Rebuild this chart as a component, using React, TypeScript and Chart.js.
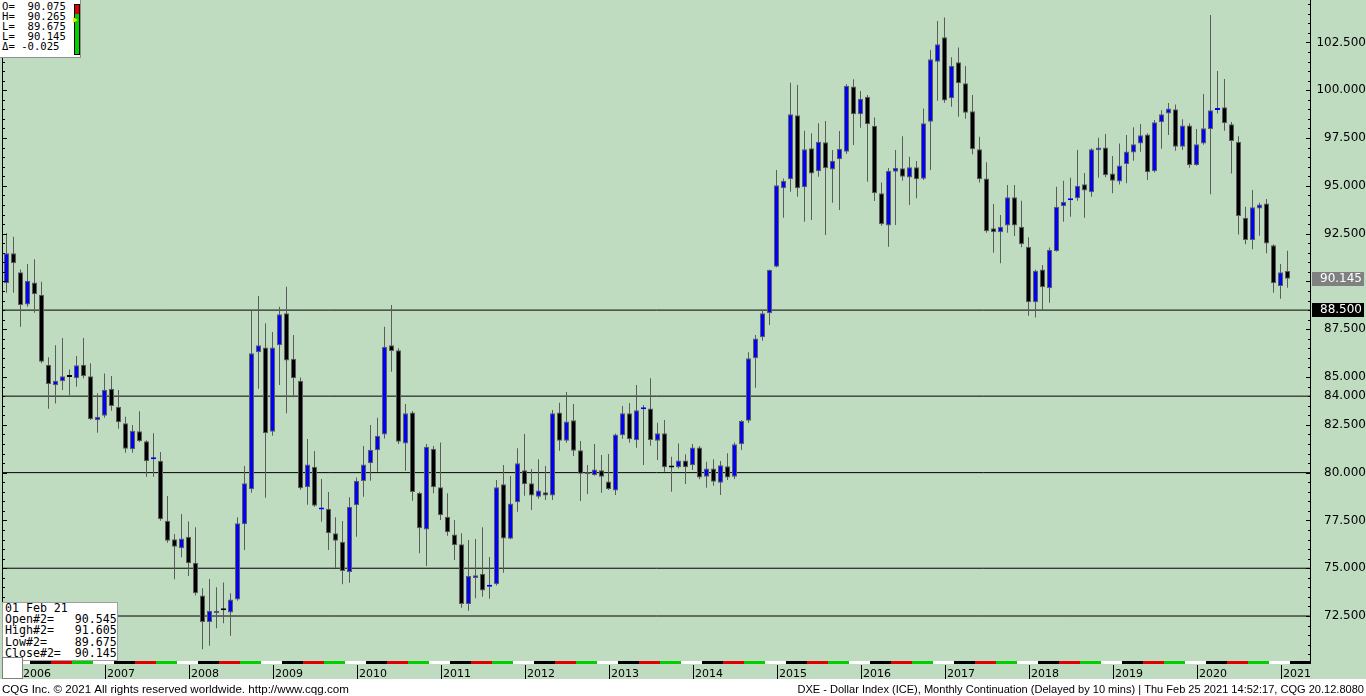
import React, { useEffect, useRef } from 'react';
import { Chart, registerables } from 'chart.js';

Chart.register(...registerables);

// ---- data (monthly DXE candles, Nov 2005 .. Feb 2021) ----
const START_YEAR = 2005;
const START_MONTH = 11;
const YEAR_LABELS = ['2006', '2007', '2008', '2009', '2010', '2011', '2012', '2013', '2014', '2015', '2016', '2017', '2018', '2019', '2020', '2021'];

const OPEN = [
  89.90, 91.47, 90.48, 88.80, 89.95, 89.30, 85.64, 84.57, 84.78, 85.04, 84.93, 85.64,
  85.04, 82.74, 82.98, 84.39, 83.45, 82.58, 81.22, 82.16, 81.64, 80.70, 80.62, 77.48,
  76.51, 76.04, 76.65, 75.29, 73.58, 72.19, 72.65, 72.88, 72.69, 73.37, 77.30, 79.13,
  86.29, 86.55, 82.14, 86.66, 88.33, 85.96, 84.81, 79.23, 80.31, 78.07, 78.11, 76.83,
  76.39, 74.80, 78.29, 79.56, 80.49, 81.17, 82.00, 86.66, 86.40, 81.53, 83.15, 78.93,
  77.03, 81.25, 79.23, 77.69, 76.77, 76.25, 73.13, 74.49, 74.71, 74.03, 74.16, 79.39,
  76.54, 78.45, 80.12, 79.44, 78.74, 78.97, 78.81, 83.15, 81.67, 82.74, 81.17, 80.02,
  79.87, 80.12, 79.54, 79.07, 81.95, 83.10, 81.69, 83.31, 83.36, 81.67, 82.06, 80.30,
  80.28, 80.64, 80.38, 81.32, 79.79, 80.22, 79.47, 80.33, 79.79, 81.48, 82.71, 85.98,
  87.08, 88.33, 90.77, 94.87, 95.34, 98.69, 94.92, 96.96, 95.76, 97.28, 95.86, 96.39,
  96.78, 100.19, 98.74, 99.66, 98.14, 94.61, 92.93, 95.74, 95.92, 95.44, 95.97, 95.37,
  98.35, 101.49, 102.77, 99.58, 101.46, 100.36, 98.90, 96.91, 95.39, 92.78, 92.57, 92.93,
  94.40, 92.86, 91.81, 88.91, 90.63, 89.64, 91.59, 93.93, 94.24, 94.35, 95.08, 94.66,
  96.86, 97.01, 95.65, 95.23, 96.14, 96.75, 97.22, 97.69, 95.76, 98.32, 98.79, 99.00,
  97.05, 98.16, 96.09, 97.22, 97.97, 98.97, 99.11, 98.22, 97.31, 93.33, 92.17, 93.82,
  94.08, 91.89, 89.76, 90.545,
];
const HIGH = [
  92.52, 92.34, 90.63, 90.91, 91.16, 89.98, 86.03, 86.66, 87.04, 85.40, 86.10, 87.04,
  85.72, 84.15, 85.19, 85.05, 84.32, 82.92, 82.49, 83.21, 81.70, 82.06, 81.08, 78.78,
  76.79, 77.83, 77.45, 77.14, 73.95, 74.44, 74.00, 74.26, 73.69, 77.66, 80.35, 88.45,
  89.24, 87.81, 87.35, 88.68, 89.72, 87.20, 84.98, 81.76, 81.13, 79.67, 78.99, 77.66,
  77.47, 78.71, 79.75, 81.39, 82.49, 82.87, 87.63, 88.77, 86.50, 83.59, 83.22, 79.00,
  81.50, 81.39, 81.58, 78.92, 77.52, 76.83, 76.47, 76.53, 77.14, 75.59, 79.61, 80.40,
  79.82, 81.27, 82.02, 80.19, 80.70, 80.35, 83.27, 83.66, 84.22, 83.59, 81.65, 80.40,
  81.50, 80.92, 80.97, 82.05, 83.48, 83.64, 84.58, 83.54, 84.93, 82.61, 82.75, 80.83,
  81.53, 80.96, 81.50, 81.39, 80.57, 80.70, 80.61, 81.01, 81.58, 82.75, 86.29, 87.20,
  88.50, 90.63, 95.83, 95.39, 100.39, 100.27, 97.88, 97.75, 98.27, 98.39, 96.87, 97.87,
  100.32, 100.57, 99.96, 99.75, 98.58, 95.18, 95.93, 96.87, 97.60, 96.52, 96.30, 99.05,
  102.10, 103.62, 103.81, 101.72, 102.24, 101.27, 99.75, 97.57, 96.24, 94.05, 93.47, 95.04,
  95.04, 94.22, 92.31, 90.63, 90.86, 91.78, 94.95, 95.27, 95.42, 96.87, 95.67, 96.96,
  97.52, 97.71, 96.56, 97.22, 97.66, 98.06, 98.23, 97.75, 98.44, 98.96, 99.33, 99.26,
  98.48, 98.27, 97.97, 99.80, 103.93, 101.00, 100.59, 98.34, 97.60, 93.91, 94.78, 94.12,
  94.31, 91.95, 90.91, 91.605,
];
const LOW = [
  89.41, 89.41, 87.63, 88.68, 88.36, 85.72, 83.34, 83.62, 84.32, 84.06, 84.49, 84.93,
  82.75, 82.09, 82.87, 83.24, 82.30, 81.04, 81.04, 81.60, 79.79, 79.79, 77.48, 76.33,
  74.42, 75.57, 74.59, 73.58, 70.76, 70.95, 71.86, 72.12, 71.47, 73.30, 75.95, 78.95,
  84.39, 78.69, 81.93, 84.58, 83.10, 83.94, 79.10, 78.32, 78.22, 77.43, 75.95, 75.03,
  74.16, 74.24, 76.65, 78.74, 79.58, 80.05, 81.79, 85.28, 81.50, 80.10, 78.53, 75.78,
  75.12, 78.92, 77.52, 76.70, 75.43, 72.93, 72.78, 73.43, 73.51, 73.40, 74.10, 74.76,
  76.51, 77.96, 78.79, 78.04, 78.64, 78.57, 78.57, 81.15, 81.56, 80.87, 78.51, 78.88,
  79.84, 78.95, 79.09, 78.83, 81.77, 81.56, 81.30, 80.40, 81.41, 80.66, 80.05, 79.00,
  80.22, 79.40, 80.14, 79.65, 79.21, 79.31, 78.83, 79.61, 79.67, 81.18, 82.60, 84.44,
  86.90, 87.72, 90.74, 93.33, 94.69, 94.43, 93.12, 93.21, 95.48, 92.43, 94.12, 93.73,
  96.66, 97.13, 98.04, 95.21, 94.21, 92.91, 91.81, 92.95, 95.27, 94.00, 94.35, 95.30,
  95.83, 99.45, 99.35, 99.14, 98.61, 98.51, 96.65, 95.17, 92.55, 91.50, 90.95, 92.55,
  92.37, 91.79, 88.21, 88.12, 88.45, 88.89, 91.55, 93.12, 93.38, 94.22, 93.33, 94.43,
  95.42, 95.45, 94.61, 95.07, 95.13, 96.31, 96.78, 95.30, 95.70, 96.94, 97.66, 96.84,
  96.87, 95.95, 96.05, 97.15, 94.56, 98.79, 97.88, 95.65, 92.46, 91.94, 91.68, 92.39,
  91.47, 89.41, 89.10, 89.675,
];
const CLOSE = [
  91.47, 90.95, 88.77, 90.04, 89.33, 85.80, 84.63, 84.81, 85.04, 85.00, 85.61, 85.05,
  82.79, 82.92, 84.34, 83.48, 82.63, 81.25, 82.19, 81.64, 80.59, 80.76, 77.56, 76.44,
  76.12, 76.56, 75.26, 73.69, 72.19, 72.78, 72.78, 72.80, 73.37, 77.35, 79.44, 86.24,
  86.66, 82.06, 86.55, 88.28, 85.87, 84.93, 79.18, 80.43, 78.27, 78.13, 76.83, 76.44,
  74.85, 78.22, 79.58, 80.43, 81.20, 81.93, 86.58, 86.36, 81.62, 83.10, 78.99, 77.09,
  81.35, 79.23, 77.77, 76.88, 76.20, 73.13, 74.59, 74.63, 73.84, 74.07, 79.23, 76.56,
  78.39, 80.49, 79.39, 78.81, 79.07, 78.81, 83.10, 81.67, 82.68, 81.15, 79.94, 79.91,
  80.17, 79.79, 79.14, 82.00, 83.10, 81.74, 83.26, 83.35, 81.71, 82.06, 80.28, 80.27,
  80.64, 80.28, 81.32, 79.75, 80.22, 79.52, 80.38, 79.75, 81.48, 82.70, 85.98, 87.02,
  88.33, 90.60, 95.03, 95.27, 98.74, 94.87, 96.91, 95.65, 97.31, 95.92, 96.31, 96.94,
  100.24, 98.74, 99.56, 98.22, 94.61, 92.99, 95.79, 95.95, 95.48, 95.97, 95.34, 98.27,
  101.62, 102.40, 99.47, 101.28, 100.36, 98.82, 96.91, 95.34, 92.62, 92.57, 92.86, 94.40,
  92.93, 91.94, 88.91, 90.56, 89.69, 91.64, 93.91, 94.17, 94.28, 95.01, 94.76, 96.91,
  97.01, 95.55, 95.27, 96.07, 96.80, 97.17, 97.64, 95.71, 98.32, 98.74, 99.05, 97.05,
  98.16, 96.09, 97.17, 98.01, 98.95, 99.03, 98.27, 97.34, 93.42, 92.17, 93.88, 94.03,
  91.99, 89.90, 90.48, 90.145,
];

const LEVELS = [88.5, 84, 80, 75, 72.5];
const AXIS_TICKS = [72.5, 75, 77.5, 80, 82.5, 84, 85, 87.5, 92.5, 95, 97.5, 100, 102.5];
const LAST_PRICE = 90.145;
const BOXED_LEVEL = 88.5;

const TOP_LINES = ['O=  90.075', 'H=  90.265', 'L=  89.675', 'L=  90.145', '\u0394= -0.025'];
const BOTTOM_LINES = ['01 Feb 21', 'Open#2=   90.545', 'High#2=   91.605', 'Low#2=    89.675', 'Close#2=  90.145'];
const FOOTER_LEFT = 'CQG Inc. \u00a9 2021 All rights reserved worldwide. http://www.cqg.com';
const FOOTER_RIGHT = 'DXE - Dollar Index (ICE), Monthly Continuation (Delayed by 10 mins) | Thu Feb 25 2021 14:52:17, CQG 20.12.8080';

const MONTHS = OPEN.map((_, i) => {
  const m = START_MONTH - 1 + i;
  return `${START_YEAR + Math.floor(m / 12)}-${String((m % 12) + 1).padStart(2, '0')}`;
});

const GREEN = '#c0dcc0';
const UP = '#0000ff';
const DOWN = '#000000';
const EDGE = '#5c5c5c';
const W = 1366;
const H = 696;

const janIndex = (year: number) => (year - START_YEAR) * 12 - (START_MONTH - 1);

const chromePlugin = {
  id: 'chrome',
  beforeDraw(chart: any) {
    const { ctx } = chart;
    ctx.save();
    ctx.fillStyle = '#ffffff';
    ctx.fillRect(0, 0, W, H);
    ctx.fillStyle = GREEN;
    ctx.fillRect(0, 0, W, 679);
    ctx.restore();
  },
  beforeDatasetsDraw(chart: any) {
    const { ctx, chartArea } = chart;
    const ys = chart.scales.y;
    ctx.save();
    ctx.strokeStyle = '#000000';
    ctx.lineWidth = 1;
    LEVELS.forEach((v) => {
      const y = ys.getPixelForValue(v);
      ctx.beginPath();
      ctx.moveTo(chartArea.left, y);
      ctx.lineTo(chartArea.right, y);
      ctx.stroke();
    });
    ctx.restore();
  },
  afterDraw(chart: any) {
    const { ctx, chartArea } = chart;
    const ys = chart.scales.y;
    const xs = chart.scales.x;
    ctx.save();
    // frame
    ctx.fillStyle = '#000';
    ctx.fillRect(2, 0, 1, 661);
    ctx.fillRect(1310, 0, 1, 664);
    // y tick marks (every 0.5, longer every 2.5)
    for (let k = 141; k <= 209; k++) {
      const v = k * 0.5;
      const y = Math.round(ys.getPixelForValue(v));
      if (y < 0 || y > chartArea.bottom) continue;
      const len = k % 5 === 0 ? 4 : 2;
      ctx.fillRect(3, y, len, 1);
      ctx.fillRect(1310 - len, y, len, 1);
    }
    // quarter band under plot
    ctx.save();
    ctx.beginPath();
    ctx.rect(3, 660, 1307, 5);
    ctx.clip();
    const cols = ['#000000', '#e00000', '#00d000', '#ffffff'];
    for (let yr = START_YEAR; yr <= 2021; yr++) {
      const j = janIndex(yr);
      for (let q = 0; q < 4; q++) {
        const a = xs.getPixelForValue(j + 1.4 + q * 3);
        const b = xs.getPixelForValue(j + 1.4 + (q + 1) * 3);
        ctx.fillStyle = cols[q];
        ctx.fillRect(Math.round(a), 661, Math.round(b) - Math.round(a), 3);
      }
      const a0 = xs.getPixelForValue(j + 1.4 - 3);
      ctx.fillStyle = '#ffffff';
      if (yr === START_YEAR) ctx.fillRect(Math.round(a0), 661, 30, 3);
    }
    ctx.restore();
    // year ticks and labels
    ctx.fillStyle = '#000';
    ctx.font = '11px "DejaVu Sans"';
    ctx.textBaseline = 'alphabetic';
    ctx.textAlign = 'left';
    YEAR_LABELS.forEach((lab) => {
      const idx = MONTHS.indexOf(`${lab}-01`);
      const x = Math.round(xs.getPixelForValue(idx));
      ctx.fillRect(x, 665, 1, 14);
      ctx.fillText(lab, x + 2, 677);
    });
    // price boxes on the right axis
    const box = (v: number, bg: string) => {
      const y = ys.getPixelForValue(v);
      ctx.fillStyle = bg;
      ctx.fillRect(1312, Math.round(y) - 7, 52, 14);
      ctx.fillStyle = '#ffffff';
      ctx.font = '12px "DejaVu Sans"';
      ctx.textAlign = 'right';
      ctx.textBaseline = 'middle';
      ctx.fillText(v.toFixed(3), 1362, Math.round(y));
    };
    box(LAST_PRICE, '#808080');
    box(BOXED_LEVEL, '#000000');
    // footer
    const fit = (text: string, x: number, y: number, w: number, align: any) => {
      ctx.font = '11px "Liberation Sans"';
      const m = ctx.measureText(text).width;
      const s = Math.max(9, Math.min(13, (11 * w) / m));
      ctx.font = `${s.toFixed(2)}px "Liberation Sans"`;
      ctx.fillStyle = '#000';
      ctx.textAlign = align;
      ctx.textBaseline = 'alphabetic';
      ctx.fillText(text, x, y);
    };
    fit(FOOTER_LEFT, 2, 693, 347, 'left');
    fit(FOOTER_RIGHT, 1364, 693, 567, 'right');
    ctx.restore();
  },
};

export default function App() {
  const ref = useRef<HTMLCanvasElement | null>(null);
  useEffect(() => {
    if (!ref.current) return;
    const up = (i: number) => CLOSE[i] >= OPEN[i];
    const chart = new Chart(ref.current, {
      type: 'bar',
      data: {
        labels: MONTHS,
        datasets: [
          {
            label: 'body',
            data: OPEN.map((o, i) => ({ x: i, y: [o, CLOSE[i]] })) as any,
            backgroundColor: OPEN.map((_, i) => (up(i) ? UP : DOWN)),
            borderColor: OPEN.map((o, i) => (Math.abs(o - CLOSE[i]) < 0.1 ? (up(i) ? UP : DOWN) : EDGE)),
            borderWidth: 1,
            borderSkipped: false,
            barThickness: 5,
            minBarLength: 2,
            grouped: false,
            inflateAmount: 0,
            order: 0,
          } as any,
          {
            label: 'range',
            data: LOW.map((l, i) => ({ x: i, y: [l, HIGH[i]] })) as any,
            backgroundColor: EDGE,
            borderWidth: 0,
            barThickness: 1,
            grouped: false,
            inflateAmount: 0,
            order: 1,
          } as any,
        ],
      },
      options: {
        responsive: false,
        animation: false,
        devicePixelRatio: 1,
        layout: { padding: { left: 3, right: 0, top: 0, bottom: 36 } },
        plugins: { legend: { display: false }, tooltip: { enabled: false } },
        scales: {
          x: {
            type: 'linear',
            display: false,
            offset: false,
            min: -0.5,
            max: 186.214,
          },
          y: {
            position: 'right',
            min: 70.2,
            max: 104.72,
            grid: { display: false, drawTicks: false },
            border: { display: false },
            ticks: {
              autoSkip: false,
              padding: 3,
              crossAlign: 'far',
              color: '#000',
              font: { family: 'DejaVu Sans', size: 12 },
              callback: (v: any) => Number(v).toFixed(3),
            },
            afterBuildTicks: (s: any) => {
              s.ticks = AXIS_TICKS.map((v) => ({ value: v }));
            },
            afterFit: (s: any) => {
              s.width = 56;
              s.paddingTop = 0;
              s.paddingBottom = 0;
            },
          } as any,
        },
      } as any,
      plugins: [chromePlugin],
    });
    return () => chart.destroy();
  }, []);

  const mono = '"DejaVu Sans Mono", "Liberation Mono", monospace';
  return (
    <div style={{ position: 'fixed', left: 0, top: 0, width: W, height: H, overflow: 'hidden', background: '#fff' }}>
      <canvas ref={ref} width={W} height={H} style={{ display: 'block', width: W, height: H }} />
      <div style={{ position: 'absolute', left: 0, top: 0, width: 81, height: 58, background: '#fff', borderRight: '1px solid #909090', borderBottom: '1px solid #909090', boxSizing: 'border-box' }}>
        <pre style={{ margin: 0, position: 'absolute', left: 2, top: 1, font: `10.6px/10px ${mono}`, color: '#000' }}>{TOP_LINES.join('\n')}</pre>
        <div style={{ position: 'absolute', left: 74, top: 4, width: 4, height: 49, border: '1px solid #000', background: 'linear-gradient(#e00000 0 9px, #00d000 9px)' }} />
        <div style={{ position: 'absolute', left: 73, top: 17, width: 0, height: 0, borderTop: '3px solid transparent', borderBottom: '3px solid transparent', borderLeft: '5px solid #e8e800' }} />
      </div>
      <div style={{ position: 'absolute', left: 2, top: 602, width: 116, height: 59, background: '#fff', border: '1px solid #a0a0a0', boxSizing: 'border-box', overflow: 'hidden' }}>
        <pre style={{ margin: 0, position: 'absolute', left: 2, top: 0, font: `11.6px/11.2px ${mono}`, color: '#000' }}>{BOTTOM_LINES.join('\n')}</pre>
      </div>
      <div style={{ position: 'absolute', left: 2, top: 657, width: 21, height: 22, background: '#fff', border: '1px solid #808080', boxSizing: 'border-box' }} />
    </div>
  );
}
